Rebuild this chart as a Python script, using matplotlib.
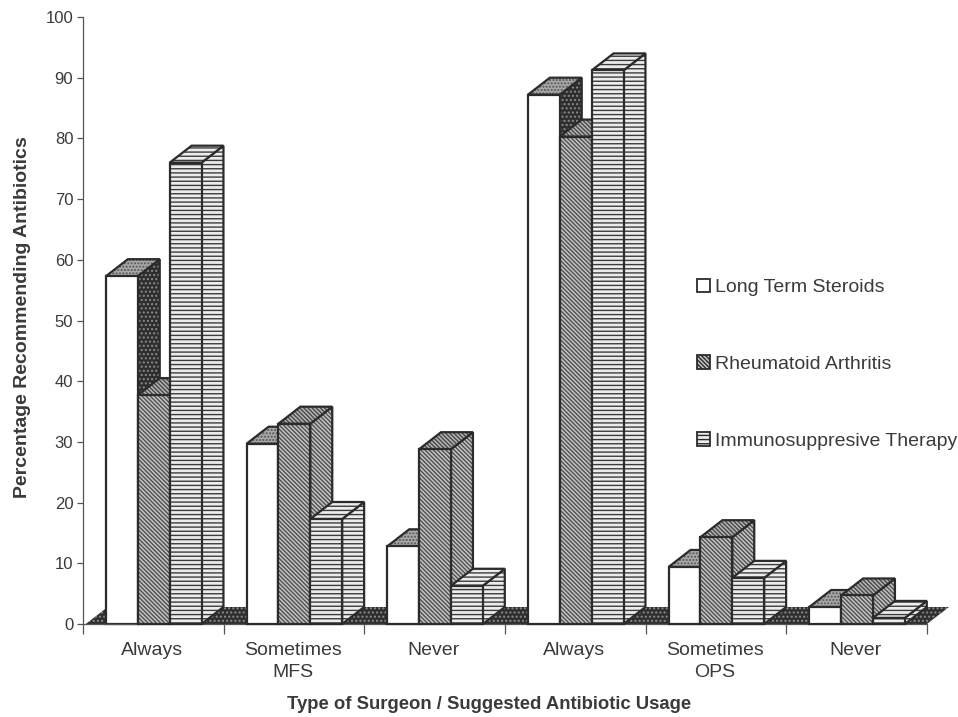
import matplotlib
matplotlib.use("Agg")
import matplotlib.pyplot as plt
from matplotlib.patches import Polygon, Patch

plt.rcParams["font.family"] = ["Liberation Sans", "DejaVu Sans"]
plt.rcParams["hatch.linewidth"] = 1.0

categories = ["Always", "Sometimes\nMFS", "Never", "Always", "Sometimes\nOPS", "Never"]
series_names = ["Long Term Steroids", "Rheumatoid Arthritis", "Immunosuppresive Therapy"]
steroids = [57.3, 29.7, 12.8, 87.2, 9.4, 2.8]
arthritis = [37.7, 33.0, 28.8, 80.3, 14.3, 4.7]
immuno = [76.0, 17.3, 6.3, 91.2, 7.6, 1.0]
y_ticks = list(range(0, 101, 10))

INK = "#2b2b2b"
TEXT = "#3a3a3a"
# x and y size of the fake depth, in data units
DX = 0.156
DY = 2.8
BAR_W = 0.2265
BAR_START = 0.163

STYLES = [
    {"front": ("white", None, "white"),
     "side": ("#2e2e2e", "....", "#8a8a8a"),
     "top": ("#a8a8a8", ".....", "#555555")},
    {"front": ("#c4c4c4", "\\" * 8, "#505050"),
     "side": ("#c4c4c4", "\\" * 8, "#505050"),
     "top": ("#b4b4b4", "\\" * 8, "#484848")},
    {"front": ("#ececec", "-" * 4, "#3c3c3c"),
     "side": ("#ececec", "-" * 4, "#3c3c3c"),
     "top": ("#ececec", "-" * 4, "#3c3c3c")},
]


def face(ax, points, style, zorder, clip=False, outline=True):
    color, hatch, hatch_color = style
    ax.add_patch(Polygon(points, closed=True, facecolor=color, edgecolor=hatch_color,
                         hatch=hatch, lw=0, zorder=zorder, clip_on=clip))
    if outline:
        ax.add_patch(Polygon(points, closed=True, fill=False, edgecolor=INK, lw=1.6,
                             joinstyle="miter", zorder=zorder + 0.01, clip_on=clip))


def draw_bar(ax, x, value, style, zorder):
    x2 = x + BAR_W
    side = [(x2, 0), (x2 + DX, DY), (x2 + DX, value + DY), (x2, value)]
    top = [(x, value), (x + DX, value + DY), (x2 + DX, value + DY), (x2, value)]
    front = [(x, 0), (x2, 0), (x2, value), (x, value)]
    face(ax, side, style["side"], zorder)
    face(ax, top, style["top"], zorder + 0.1)
    face(ax, front, style["front"], zorder + 0.2)


fig = plt.figure(figsize=(9.58, 7.17), dpi=100)
ax = fig.add_axes([83 / 958, 1 - 624 / 717, 844 / 958, 607 / 717])
ax.set_xlim(0, 6)
ax.set_ylim(0, 100)

# dark floor behind the bars
n = len(categories)
face(ax, [(0.02, 0), (n, 0), (n + DX, DY), (0.02 + DX, DY)],
     ("#2e2e2e", "....", "#8a8a8a"), 1, outline=False)

for i in range(n):
    values = [steroids[i], arthritis[i], immuno[i]]
    for j, value in enumerate(values):
        x = i + BAR_START + j * BAR_W
        draw_bar(ax, x, value, STYLES[j], 2 + i + j * 0.3)

for side in ["top", "right"]:
    ax.spines[side].set_visible(False)
for side in ["left", "bottom"]:
    ax.spines[side].set_color("#555555")
    ax.spines[side].set_linewidth(0.9)

ax.set_xticks(range(n + 1))
ax.set_xticklabels([])
ax.set_xticks([i + 0.49 for i in range(n)], categories, minor=True)
ax.tick_params(axis="x", which="major", length=7, width=0.9, color="#555555")
ax.tick_params(axis="x", which="minor", length=0, pad=13, labelsize=14, labelcolor=TEXT)
plt.setp(ax.get_xticklabels(minor=True), linespacing=1.4)
ax.set_yticks(y_ticks)
ax.tick_params(axis="y", length=4, width=0.9, color="#555555", labelsize=12, labelcolor=TEXT, pad=3)

ax.set_xlabel("Type of Surgeon / Suggested Antibiotic Usage", fontsize=13.3, fontweight="bold", color=TEXT)
ax.xaxis.set_label_coords(0.481, -0.119)
ax.set_ylabel("Percentage Recommending Antibiotics", fontsize=14, fontweight="bold", color=TEXT)
ax.yaxis.set_label_coords(-0.062, 0.505)

handles = []
for name, style in zip(series_names, STYLES):
    color, hatch, hatch_color = style["front"]
    handles.append(Patch(facecolor=color, edgecolor=INK, hatch=hatch, lw=1.3, label=name))
ax.legend(handles=handles, loc="center left", bbox_to_anchor=(0.727, 0.428), frameon=False,
          fontsize=14, labelspacing=3.06, handlelength=0.67, handleheight=0.67,
          handletextpad=0.3, labelcolor=TEXT, borderpad=0, borderaxespad=0)

fig.savefig("out.png", dpi=100)
